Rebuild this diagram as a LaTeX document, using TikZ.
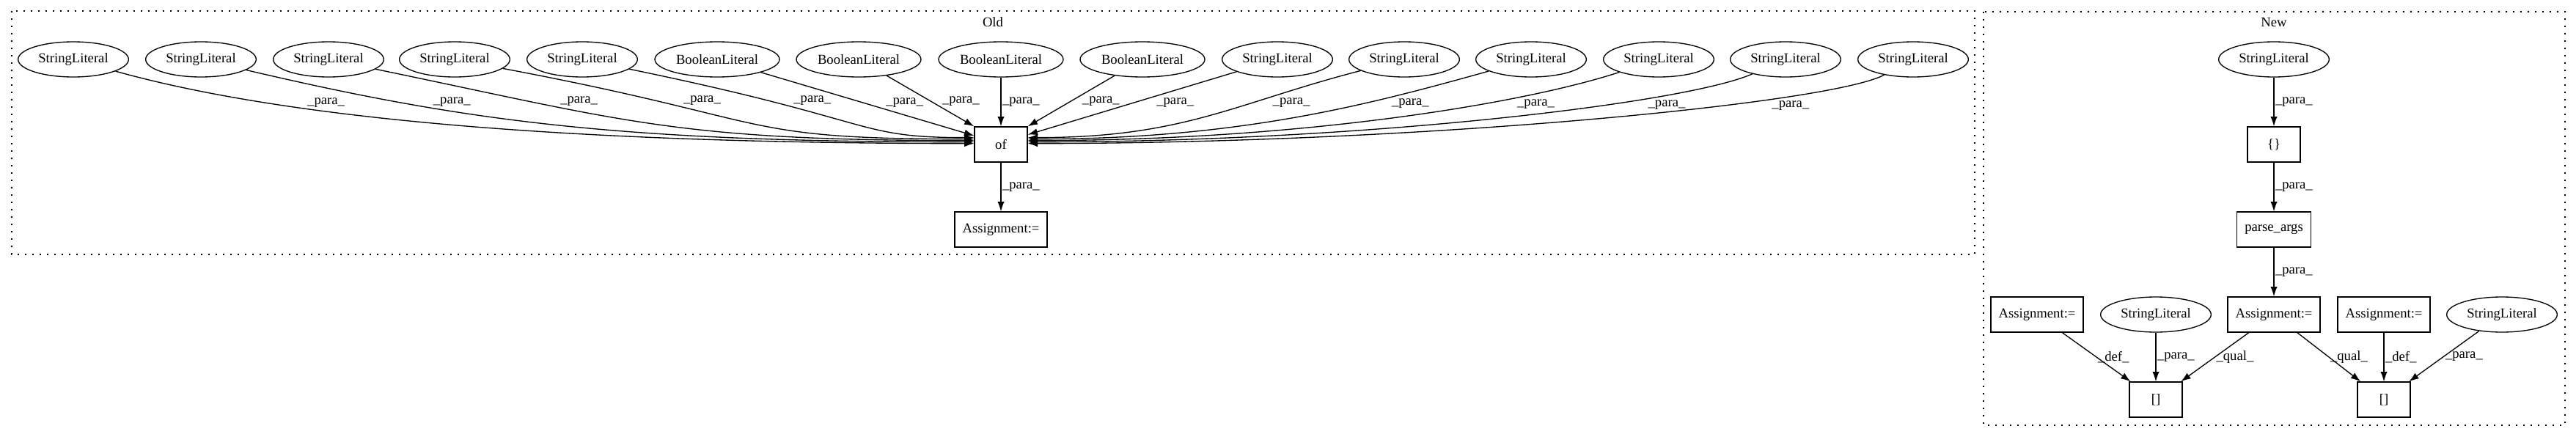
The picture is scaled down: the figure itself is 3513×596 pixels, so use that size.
\documentclass[tikz,border=0pt]{standalone}
\usepackage{fontspec}
\setmainfont{Liberation Serif}
\usetikzlibrary{arrows.meta,shapes.geometric}

\begin{document}
\begin{tikzpicture}[x=0.75pt, y=-0.75pt, line width=1pt, font=\fontsize{14}{17}\selectfont,
	lit/.style={draw, ellipse, inner sep=0pt, minimum width=113pt, minimum height=36pt},
	boollit/.style={lit, minimum width=127.5pt},
	op/.style={draw, rectangle, inner xsep=8pt, inner ysep=0pt, minimum width=54pt, minimum height=36pt},
	link/.style={-{Latex[length=10pt, width=7pt]}},
	lbl/.style={inner sep=1pt},
	cluster/.style={dash pattern=on 1.5pt off 6pt}]

	\fill[white] (0,0) rectangle (3513,596);
	\draw[cluster] (16,15) rectangle (2693,347);
	\draw[cluster] (2705,16) rectangle (3498,580);
	\node (oldt) at (1354,30) {Old};
	\node (newt) at (3101,30) {New};

	\node[lit] (s1) at (100,81) {StringLiteral};
	\node[lit] (s2) at (274,81) {StringLiteral};
	\node[lit] (s3) at (448,81) {StringLiteral};
	\node[lit] (s4) at (620,81) {StringLiteral};
	\node[lit] (s5) at (794,81) {StringLiteral};
	\node[boollit] (b1) at (978,81) {BooleanLiteral};
	\node[boollit] (b2) at (1171,81) {BooleanLiteral};
	\node[boollit] (b3) at (1365,81) {BooleanLiteral};
	\node[boollit] (b4) at (1558,81) {BooleanLiteral};
	\node[lit] (s6) at (1742,81) {StringLiteral};
	\node[lit] (s7) at (1915,81) {StringLiteral};
	\node[lit] (s8) at (2088,81) {StringLiteral};
	\node[lit] (s9) at (2262,81) {StringLiteral};
	\node[lit] (s10) at (2435,81) {StringLiteral};
	\node[lit] (s11) at (2609,81) {StringLiteral};
	\node[op] (of) at (1365,197) {of};
	\node[op] (oasg) at (1365,313) {Assignment:=};

	\draw[link] (s1) .. controls +(300,84) and +(-530,0) .. ([yshift=1pt]of.west) node[lbl, pos=.3, anchor=south west] {\_para\_};
	\draw[link] (s2) .. controls +(358,84) and +(-486,0) .. ([yshift=2.5pt]of.west) node[lbl, pos=.3, anchor=south west] {\_para\_};
	\draw[link] (s3) .. controls +(406,84) and +(-407,0) .. ([yshift=4pt]of.west) node[lbl, pos=.3, anchor=south west] {\_para\_};
	\draw[link] (s4) .. controls +(446,84) and +(-329,0) .. ([yshift=5.5pt]of.west) node[lbl, pos=.3, anchor=south west] {\_para\_};
	\draw[link] (s5) .. controls +(408,84) and +(-164,0) .. ([yshift=7pt]of.west) node[lbl, pos=.3, anchor=south west] {\_para\_};
	\draw[link] (b1) -- ([yshift=9pt]of.west) node[lbl, pos=.58, anchor=south west] {\_para\_};
	\draw[link] (b2) -- (of.north west) node[lbl, pos=.62, anchor=south west] {\_para\_};
	\draw[link] (b3) -- (of) node[lbl, pos=.5, anchor=west] {\_para\_};
	\draw[link] (b4) -- (of.north east) node[lbl, pos=.39, anchor=north west] {\_para\_};
	\draw[link] (s6) -- ([yshift=10pt]of.east) node[lbl, pos=.39, anchor=north west] {\_para\_};
	\draw[link] (s7) .. controls +(-232,60) and +(213,0) .. ([yshift=7pt]of.east) node[lbl, pos=.27, anchor=north west] {\_para\_};
	\draw[link] (s8) .. controls +(-216,60) and +(293,0) .. ([yshift=5.5pt]of.east) node[lbl, pos=.27, anchor=north west] {\_para\_};
	\draw[link] (s9) .. controls +(-184,60) and +(374,0) .. ([yshift=4pt]of.east) node[lbl, pos=.27, anchor=north west] {\_para\_};
	\draw[link] (s10) .. controls +(-137,60) and +(455,0) .. ([yshift=2.5pt]of.east) node[lbl, pos=.27, anchor=north west] {\_para\_};
	\draw[link] (s11) .. controls +(-112,60) and +(536,0) .. ([yshift=1pt]of.east) node[lbl, pos=.27, anchor=north west] {\_para\_};
	\draw[link] (of) -- (oasg) node[lbl, pos=.5, anchor=west] {\_para\_};

	\node[lit] (nsl) at (3101,81) {StringLiteral};
	\node[op] (nbr) at (3101,197) {\{\}};
	\node[op] (nparse) at (3101,313) {parse\_args};
	\node[op] (nasg) at (3101,429) {Assignment:=};
	\node[op] (nasgl) at (2778,429) {Assignment:=};
	\node[lit] (nsll) at (2940,429) {StringLiteral};
	\node[op] (nasgr) at (3251,429) {Assignment:=};
	\node[lit] (nslr) at (3412,429) {StringLiteral};
	\node[op] (nidxl) at (2940,545) {[]};
	\node[op] (nidxr) at (3251,545) {[]};

	\draw[link] (nsl) -- (nbr) node[lbl, pos=.5, anchor=west] {\_para\_};
	\draw[link] (nbr) -- (nparse) node[lbl, pos=.5, anchor=west] {\_para\_};
	\draw[link] (nparse) -- (nasg) node[lbl, pos=.5, anchor=west] {\_para\_};
	\draw[link] (nasgl) -- (nidxl) node[lbl, pos=.5, anchor=west] {\_def\_};
	\draw[link] (nsll) -- (nidxl) node[lbl, pos=.5, anchor=west] {\_para\_};
	\draw[link] (nasg) -- (nidxl) node[lbl, pos=.5, anchor=west] {\_qual\_};
	\draw[link] (nasg) -- (nidxr) node[lbl, pos=.5, anchor=west] {\_qual\_};
	\draw[link] (nasgr) -- (nidxr) node[lbl, pos=.5, anchor=west] {\_def\_};
	\draw[link] (nslr) -- (nidxr) node[lbl, pos=.5, anchor=west] {\_para\_};
\end{tikzpicture}
\end{document}
